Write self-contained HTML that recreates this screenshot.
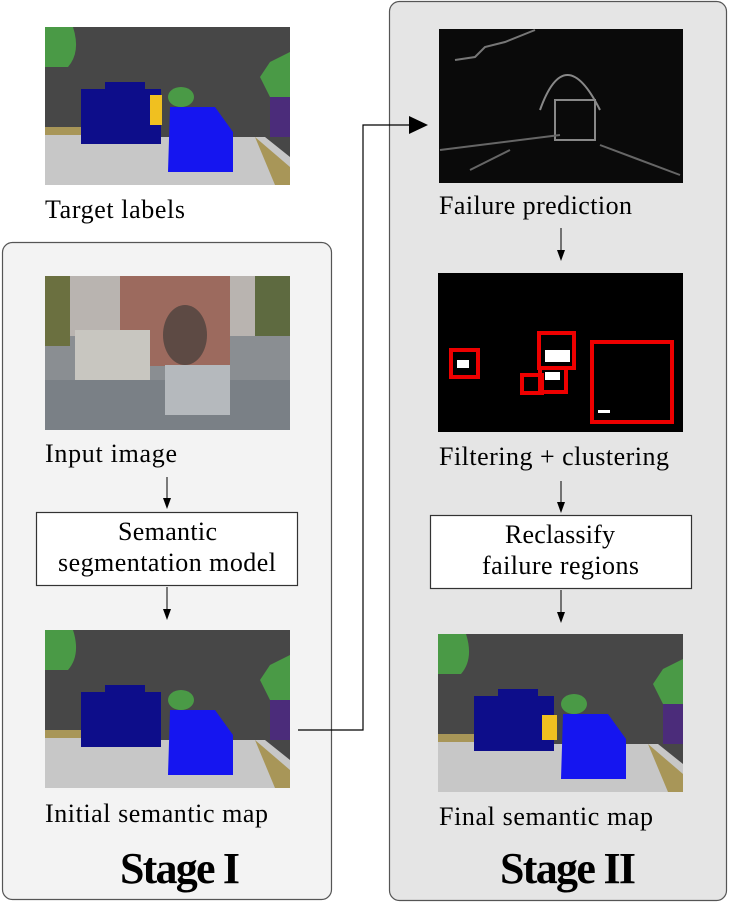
<!DOCTYPE html>
<html><head><meta charset="utf-8"><style>
html,body{margin:0;padding:0;background:#fff;width:729px;height:903px;overflow:hidden}
text{font-family:"Liberation Serif",serif;fill:#000}
</style></head><body>
<svg width="729" height="903" viewBox="0 0 729 903" xmlns="http://www.w3.org/2000/svg">
<defs>
<g id="seg">
<rect width="245" height="158" fill="#474747"/>
<path d="M0,0 h28 q8,25 -5,40 h-23z" fill="#4a9a46"/>
<path d="M245,25 l-20,10 l-10,15 l10,20 v15 h20z" fill="#4a9a46"/>
<rect x="225" y="70" width="20" height="40" fill="#4b2c7a"/>
<path d="M0,105 h50 v53 h-50z" fill="#c7c7c7"/>
<path d="M0,100 h40 v8 h-40z" fill="#a89658"/>
<path d="M50,110 h170 l25,20 v28 h-195z" fill="#c7c7c7"/>
<path d="M210,110 l35,30 v18 h-15z" fill="#a89658"/>
<rect x="36" y="62" width="80" height="55" fill="#0d0d8a"/>
<rect x="60" y="55" width="40" height="10" fill="#0d0d8a"/>
<ellipse cx="136" cy="70" rx="13" ry="10" fill="#4a9a46"/>
<path d="M125,80 h45 l18,25 v40 h-65z" fill="#1515f0"/>
</g>
<path id="dn" d="M-4,-11 L4,-11 L0,0 Z" fill="#000"/>
</defs>

<rect x="2.5" y="242.5" width="329" height="657" rx="10" fill="#f3f3f3" stroke="#555" stroke-width="1.2"/>
<rect x="389.5" y="1.5" width="337" height="899" rx="10" fill="#e5e5e5" stroke="#555" stroke-width="1.2"/>

<use href="#seg" x="45" y="27"/>
<rect x="150" y="95" width="12" height="30" fill="#f0c020"/>
<text x="45" y="218" font-size="26" textLength="140">Target labels</text>

<rect x="45" y="276" width="245" height="154" fill="#8a8e92"/>
<rect x="45" y="276" width="245" height="60" fill="#b9b4b0"/>
<rect x="120" y="276" width="110" height="90" fill="#9c6a5e"/>
<ellipse cx="185" cy="335" rx="22" ry="30" fill="#5d4a44"/>
<rect x="45" y="276" width="25" height="70" fill="#6b7040"/>
<rect x="255" y="276" width="35" height="60" fill="#5e6a40"/>
<rect x="75" y="330" width="75" height="50" fill="#c8c6c0"/>
<rect x="45" y="380" width="245" height="50" fill="#7a8086"/>
<rect x="165" y="365" width="65" height="50" fill="#b5b9bd"/>
<text x="45" y="462" font-size="26" textLength="132">Input image</text>

<line x1="167" y1="477" x2="167" y2="500" stroke="#000" stroke-width="1"/>
<use href="#dn" x="167" y="509"/>
<rect x="36.5" y="512.5" width="261" height="73" fill="#fff" stroke="#333" stroke-width="1.2"/>
<text x="118" y="540" font-size="26" textLength="99">Semantic</text>
<text x="58" y="571" font-size="26" textLength="218">segmentation model</text>
<line x1="167" y1="587" x2="167" y2="610" stroke="#000" stroke-width="1"/>
<use href="#dn" x="167" y="620"/>

<use href="#seg" x="45" y="630"/>
<text x="45" y="822" font-size="26" textLength="223">Initial semantic map</text>
<text x="120" y="883" font-size="44" font-weight="bold" textLength="120">Stage I</text>

<path d="M298,730 H363 V125 H415" fill="none" stroke="#000" stroke-width="1.2"/>
<path d="M409,116 L428,125 L409,134 Z" fill="#000"/>

<rect x="439" y="29" width="244" height="154" fill="#0a0a0a"/>
<path d="M455,60 l20,-3 l10,-10 l20,-5 l30,-12" fill="none" stroke="#777" stroke-width="2"/>
<path d="M540,110 q25,-70 60,0" fill="none" stroke="#888" stroke-width="2"/>
<rect x="555" y="100" width="40" height="40" fill="none" stroke="#888" stroke-width="2"/>
<path d="M440,150 l120,-15 M600,145 l80,30 M470,170 l40,-20" stroke="#666" stroke-width="2"/>
<text x="439" y="214" font-size="26" textLength="193">Failure prediction</text>
<line x1="561" y1="228" x2="561" y2="252" stroke="#000" stroke-width="1"/>
<use href="#dn" x="561" y="261"/>

<rect x="438" y="273" width="245" height="159" fill="#000"/>
<g fill="none" stroke="#e00" stroke-width="4">
<rect x="451" y="350" width="27" height="27"/>
<rect x="539" y="333" width="35" height="35"/>
<rect x="540" y="368" width="26" height="24"/>
<rect x="522" y="375" width="20" height="18"/>
<rect x="592" y="342" width="80" height="80"/>
</g>
<rect x="545" y="350" width="25" height="12" fill="#fff"/>
<rect x="545" y="372" width="15" height="8" fill="#fff"/>
<rect x="457" y="360" width="12" height="8" fill="#fff"/>
<rect x="598" y="410" width="12" height="3" fill="#fff"/>
<text x="439" y="465" font-size="26" textLength="230">Filtering + clustering</text>
<line x1="561" y1="481" x2="561" y2="504" stroke="#000" stroke-width="1"/>
<use href="#dn" x="561" y="513"/>
<rect x="430.5" y="515.5" width="261" height="73" fill="#fff" stroke="#333" stroke-width="1.2"/>
<text x="505" y="543" font-size="26" textLength="110">Reclassify</text>
<text x="482" y="574" font-size="26" textLength="157">failure regions</text>
<line x1="561" y1="590" x2="561" y2="613" stroke="#000" stroke-width="1"/>
<use href="#dn" x="561" y="623"/>

<use href="#seg" x="438" y="634"/>
<rect x="542" y="715" width="15" height="25" fill="#f0c020"/>
<text x="439" y="825" font-size="26" textLength="214">Final semantic map</text>
<text x="500" y="883" font-size="44" font-weight="bold" textLength="136">Stage II</text>
</svg>
</body></html>
